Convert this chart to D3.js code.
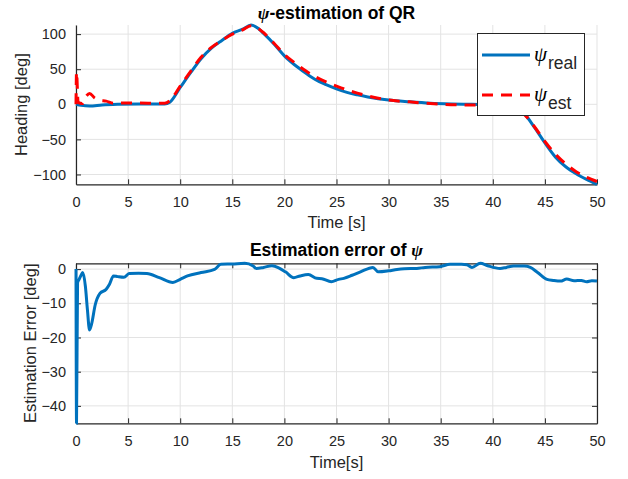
<!DOCTYPE html>
<html>
<head>
<meta charset="utf-8">
<script src="https://cdn.jsdelivr.net/npm/d3@7"></script>
<style>
  body { margin: 0; background: #fff; }
  svg { display: block; font-family: "Liberation Sans", Arial, Helvetica, sans-serif; }
</style>
</head>
<body>
<div id="chart"></div>
<script>
// heading, real (deg)
let t_real = [0, 0.5, 1.3, 2.5, 4, 6, 8.5, 9, 10, 11, 12, 13, 14, 15, 16, 16.8, 17.5, 18, 19, 20, 21, 22, 23, 24, 25, 26, 27, 28, 30, 32, 34, 36, 38, 40, 41, 42, 43, 44, 45, 46, 47, 48, 49, 50];
let psi_real = [0, -1.5, -2.5, -1, 0, 0.5, 0.5, 3, 24, 45, 65, 80, 91, 101, 107, 113, 108, 101, 86, 69, 56, 45, 35, 28, 22, 17, 13.5, 10.5, 6, 3.5, 1.5, 0.5, 0, -0.5, -1, -3.4, -13, -33, -55, -75, -89, -99, -107, -114];

// heading, estimated (deg)
let t_est = [0, 0.05, 0.2, 0.6, 1.0, 1.3, 1.8, 2.3, 2.9, 3.6, 4.5, 6, 8.5, 9, 10, 11, 12, 13, 14, 15, 16, 16.8, 17.5, 18, 19, 20, 21, 22, 23, 24, 25, 26, 27, 28, 30, 32, 34, 36, 38, 40, 41, 42, 43, 44, 45, 46, 47, 48, 49, 50];
let psi_est = [0, 46, 3, 1, 12, 15.5, 9, 5.5, 4.5, 1.5, 2, 1.8, 1.5, 5, 26, 47, 67, 81, 91, 100, 106, 112, 108, 102, 87, 71, 59, 48, 39, 32, 26, 20.5, 16, 12, 6, 3.5, 1, -0.5, -1, -1, -1.5, -4, -14, -32, -53, -71, -85, -96, -104, -110];

// estimation error (deg)
let t_err = [0, 0.05, 0.15, 0.3, 0.45, 0.65, 0.9, 1.1, 1.3, 1.5, 1.84, 2.3, 2.9, 3.2, 3.6, 4, 4.6, 5.1, 6, 6.8, 8, 9.3, 10, 10.7, 12, 13.3, 13.9, 15, 16.2, 17, 17.3, 18, 18.8, 19.5, 20.1, 20.9, 21.5, 22.3, 23.1, 23.6, 24.5, 25.2, 25.7, 26.5, 27.3, 28.5, 29, 30, 30.8, 31.5, 32.7, 33.5, 34.9, 35.9, 37, 37.5, 38, 38.8, 39.5, 40.7, 41.3, 42, 43, 43.6, 44.3, 45.2, 45.8, 46.5, 47.1, 47.8, 48.5, 49, 49.5, 50];
let err = [0, -45, -4, -3, -2, -1, -5, -12, -17.8, -16, -10.5, -7.1, -5.9, -4.5, -2, -2.2, -2.4, -1.3, -1.2, -1.3, -2.5, -3.9, -3, -2, -1, -0.1, 1.4, 1.5, 1.7, 0.9, 0.2, 0.5, 1, 0.3, -0.8, -2.5, -2, -1.6, -2.7, -2.8, -3.7, -3, -2.7, -1.8, -0.8, 0.5, -0.8, -0.5, -0.1, 0.1, 0.2, 0.5, 0.7, 1.4, 1.4, 1.3, 0.5, 1.7, 1, 0.2, 0.5, 0.9, 0.9, 0.5, -1, -3, -3.3, -3.5, -2.9, -3.4, -3.3, -3.7, -3.4, -3.5];

let x_ticks = [0, 5, 10, 15, 20, 25, 30, 35, 40, 45, 50];
let y_ticks_top = [-100, -50, 0, 50, 100];
let y_ticks_bot = [-40, -30, -20, -10, 0];

const W = 628, H = 479;
const left = 76, right = 597;
const axisCol = '#262626', gridCol = '#e3e3e3';
const blue = '#0072BD', red = '#FF0000';

let svg = d3.select('#chart').append('svg')
    .attr('width', W)
    .attr('height', H);

svg.append('rect').attr('width', W).attr('height', H).attr('fill', '#fff');

let x = d3.scaleLinear().domain([0, 50]).range([left, right]);

function drawPanel(top, bottom, yDomain, yTicks, boxOn) {
    let y = d3.scaleLinear().domain(yDomain).range([bottom, top]);
    let g = svg.append('g');

    // grid
    g.selectAll('.gx').data(x_ticks).join('line')
        .attr('x1', d => x(d)).attr('x2', d => x(d))
        .attr('y1', top).attr('y2', bottom)
        .attr('stroke', gridCol).attr('stroke-width', 1);
    g.selectAll('.gy').data(yTicks).join('line')
        .attr('x1', left).attr('x2', right)
        .attr('y1', d => y(d)).attr('y2', d => y(d))
        .attr('stroke', gridCol).attr('stroke-width', 1);

    // axes
    let xAxis = d3.axisBottom(x).tickValues(x_ticks).tickSizeInner(-5).tickSizeOuter(0).tickPadding(12);
    let yAxis = d3.axisLeft(y).tickValues(yTicks).tickSizeInner(-5).tickSizeOuter(0).tickPadding(10);
    let gx = g.append('g').attr('transform', `translate(0,${bottom})`).call(xAxis);
    let gy = g.append('g').attr('transform', `translate(${left},0)`).call(yAxis);
    if (boxOn) {
        g.append('g').attr('transform', `translate(0,${top})`)
            .call(d3.axisTop(x).tickValues(x_ticks).tickSizeInner(-5).tickSizeOuter(0).tickFormat(''));
        g.append('g').attr('transform', `translate(${right},0)`)
            .call(d3.axisRight(y).tickValues(yTicks).tickSizeInner(-5).tickSizeOuter(0).tickFormat(''));
    }
    g.selectAll('.domain').attr('stroke', axisCol).attr('stroke-width', 1.2);
    g.selectAll('.tick line').attr('stroke', axisCol);
    g.selectAll('.tick text').attr('fill', axisCol).attr('font-size', 14.5)
        .attr('font-family', '"Liberation Sans", Arial, sans-serif');
    gx.selectAll('.tick text').attr('dy', '0.71em');
    return y;
}

// ---- top panel ----
let yTop = drawPanel(25, 184.3, [-114, 113], y_ticks_top, false);

let line1 = d3.line().curve(d3.curveMonotoneX)
    .x(d => x(d[0])).y(d => yTop(d[1]));

svg.append('path')
    .datum(t_real.map((t, i) => [t, psi_real[i]]))
    .attr('d', line1)
    .attr('fill', 'none').attr('stroke', blue).attr('stroke-width', 3);

svg.append('path')
    .datum(t_est.map((t, i) => [t, psi_est[i]]))
    .attr('d', line1)
    .attr('fill', 'none').attr('stroke', red).attr('stroke-width', 3)
    .attr('stroke-dasharray', '11,8');

svg.append('text')
    .attr('x', (left + right) / 2).attr('y', 18.5)
    .attr('text-anchor', 'middle')
    .attr('font-size', 17.5).attr('font-weight', 'bold')
    .html('<tspan font-family="Liberation Serif, serif" font-style="italic">ψ</tspan>-estimation of QR');

svg.append('text')
    .attr('x', (left + right) / 2).attr('y', 228)
    .attr('text-anchor', 'middle').attr('fill', axisCol)
    .attr('font-size', 16.5)
    .text('Time [s]');

svg.append('text')
    .attr('transform', `translate(27,${(25 + 184.3) / 2}) rotate(-90)`)
    .attr('text-anchor', 'middle').attr('fill', axisCol)
    .attr('font-size', 16.5)
    .text('Heading [deg]');

// legend
let lg = svg.append('g');
lg.append('rect')
    .attr('x', 477.5).attr('y', 33.5).attr('width', 107).attr('height', 82)
    .attr('fill', '#fff').attr('stroke', axisCol).attr('stroke-width', 1);
let legendItems = [
    {sym: 'ψ', sub: 'real', color: blue, dash: null, y: 55},
    {sym: 'ψ', sub: 'est', color: red, dash: '11,8', y: 95}
];
legendItems.forEach(d => {
    lg.append('line')
        .attr('x1', 482).attr('x2', 530).attr('y1', d.y).attr('y2', d.y)
        .attr('stroke', d.color).attr('stroke-width', 3)
        .attr('stroke-dasharray', d.dash);
    let t = lg.append('text').attr('x', 534).attr('y', d.y + 6).attr('fill', '#000');
    t.append('tspan').attr('font-family', '"Liberation Serif", serif').attr('font-style', 'italic')
        .attr('font-size', 21).text(d.sym);
    t.append('tspan').attr('font-size', 17.5).attr('dx', 1).attr('dy', 8).attr('fill', axisCol).text(d.sub);
});

// ---- bottom panel ----
let yBot = drawPanel(263.3, 423.3, [-45.1, 1.7], y_ticks_bot, true);

let line2 = d3.line().curve(d3.curveMonotoneX)
    .x(d => x(d[0])).y(d => yBot(d[1]));

svg.append('path')
    .datum(t_err.map((t, i) => [t, err[i]]))
    .attr('d', line2)
    .attr('fill', 'none').attr('stroke', blue).attr('stroke-width', 3);

svg.append('text')
    .attr('x', (left + right) / 2).attr('y', 256)
    .attr('text-anchor', 'middle')
    .attr('font-size', 17.5).attr('font-weight', 'bold')
    .html('Estimation error of <tspan font-family="Liberation Serif, serif" font-style="italic">ψ</tspan>');

svg.append('text')
    .attr('x', (left + right) / 2).attr('y', 468)
    .attr('text-anchor', 'middle').attr('fill', axisCol)
    .attr('font-size', 16.5)
    .text('Time[s]');

svg.append('text')
    .attr('transform', `translate(36,${(263.3 + 423.3) / 2}) rotate(-90)`)
    .attr('text-anchor', 'middle').attr('fill', axisCol)
    .attr('font-size', 16.5)
    .text('Estimation Error [deg]');
</script>
</body>
</html>
